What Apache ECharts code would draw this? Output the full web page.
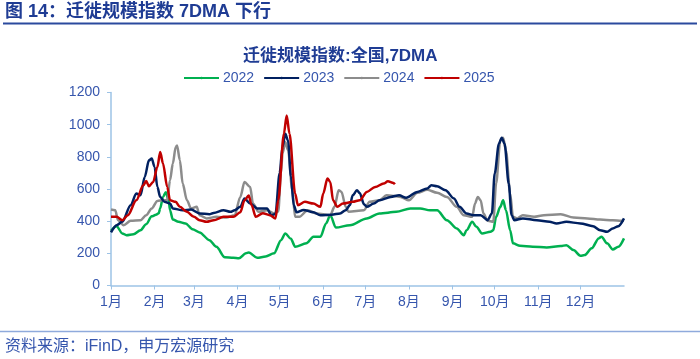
<!DOCTYPE html>
<html>
<head>
<meta charset="utf-8">
<script src="https://cdn.jsdelivr.net/npm/echarts@6/dist/echarts.min.js"></script>
<style>
html,body{margin:0;padding:0;background:#fff;}
#c{width:700px;height:359px;}
</style>
</head>
<body>
<div id="c"></div>
<script>
// month tick positions (day of year) and labels
var monthStarts = [0, 31, 59, 90, 120, 151, 181, 212, 243, 273, 304, 334];
var monthLabels = ['1月','2月','3月','4月','5月','6月','7月','8月','9月','10月','11月','12月'];
var yTicks = [0, 200, 400, 600, 800, 1000, 1200];
var seriesNames = ['2022', '2023', '2024', '2025'];

// 2022
var d2022 = [0,4,8,11,16,21,25,29,32,34,35,37,39,41,42,44,48,53,58,63,70,75,81,87,91,96,98,104,110,116,121,124,128,131,139,144,149,153,156,160,170,182,191,203,213,220,227,232,239,246,251,253,257,260,264,270,272,274,277,279,281,284,286,291,300,310,320,324,329,334,337,342,347,349,353,357,361,365];
var v2022 = [340,369,324,313,319,344,381,430,440,450,480,551,580,530,468,410,396,386,350,330,282,241,175,172,169,200,205,172,180,200,282,324,290,241,262,303,303,386,437,360,375,417,448,458,479,479,468,468,406,355,313,344,396,365,324,334,344,427,489,530,468,344,262,247,241,237,245,251,220,185,189,231,293,303,262,224,241,293];

// 2023
var d2023 = [0,4,8,14,18,21,24,27,29,31,33,35,38,42,44,51,57,63,70,73,80,85,88,92,95,99,104,111,114,117,120,122,124,126,128,130,132,137,144,149,157,163,167,170,172,175,177,180,182,187,191,199,205,210,218,225,228,232,238,244,248,253,258,263,268,271,273,276,278,280,283,285,287,293,303,312,317,324,334,343,348,353,357,361,365];
var v2023 = [330,375,396,499,572,561,675,778,789,737,613,551,520,510,479,468,472,448,443,451,468,458,468,489,541,510,479,479,437,445,700,860,944,900,680,500,455,470,455,437,440,448,468,500,561,592,575,505,489,510,530,551,561,545,582,603,623,617,592,541,489,448,437,437,406,448,696,882,919,882,634,437,406,417,406,396,386,396,386,369,344,334,355,369,417];

// 2024
var d2024 = [0,3,5,9,14,21,25,29,33,37,40,42,44,46,47,49,51,54,57,61,63,68,75,82,88,92,95,99,101,105,111,116,119,121,122,124,126,129,131,134,140,146,156,159,162,164,167,169,180,184,191,196,206,212,218,225,232,239,246,251,257,259,261,263,265,268,272,274,277,279,281,284,286,289,293,301,308,320,329,339,348,357,363,365];
var v2024 = [472,468,406,375,402,406,437,479,526,530,530,654,758,860,871,778,634,530,479,489,437,417,427,423,437,551,644,613,510,458,468,448,460,700,820,892,840,592,427,427,468,448,437,489,592,582,489,458,468,520,530,561,551,530,576,596,576,551,489,437,427,510,551,530,448,402,396,634,902,919,840,572,427,417,437,427,437,443,423,417,410,406,402,402];

// 2025
var d2025 = [0,4,8,12,18,23,25,27,30,33,35,37,40,42,46,49,54,59,63,68,73,80,87,92,95,98,100,103,108,113,117,119,123,125,127,131,133,138,144,149,151,154,156,158,161,165,172,177,182,188,194,197,201,202];
var v2025 = [427,427,406,437,530,623,650,617,644,737,830,758,613,530,520,489,458,427,406,396,406,427,427,455,530,560,500,427,450,437,417,530,944,1057,944,572,499,520,510,489,572,665,644,530,489,510,520,530,582,613,634,648,637,629];

var colors = ['#00B050', '#002060', '#8C8C8C', '#C00000'];

function zip(d, v) { return d.map(function (x, i) { return [x, v[i]]; }); }
var allDays = [d2022, d2023, d2024, d2025];
var allVals = [v2022, v2023, v2024, v2025];

var FONT = '"Liberation Sans", Arial, "Noto Sans CJK SC", sans-serif';
var chart = echarts.init(document.getElementById('c'), null, {renderer: 'canvas'});
chart.setOption({
  animation: false,
  backgroundColor: '#ffffff',
  textStyle: {fontFamily: FONT},
  title: {
    text: '迁徙规模指数:全国,7DMA',
    left: 238, top: 43,
    textStyle: {fontSize: 17, fontWeight: 'bold', color: '#1F3C94', fontFamily: FONT}
  },
  legend: {
    data: seriesNames,
    left: 178, top: 66,
    itemWidth: 35, itemHeight: 3, itemGap: 9,
    textStyle: {fontSize: 14, color: '#3656AD', fontFamily: FONT, padding: [0,0,0,-1]}
  },
  graphic: [
    {type: 'text', left: 5, top: 3, style: {text: '图 14：迁徙规模指数 7DMA 下行', font: 'bold 18px ' + FONT, fill: '#1F3C94'}},
    {type: 'line', shape: {x1: 3, y1: 23.5, x2: 697, y2: 23.5}, style: {stroke: '#2B4A9E', lineWidth: 2}},
    {type: 'line', shape: {x1: 0, y1: 331.5, x2: 700, y2: 331.5}, style: {stroke: '#8FAADC', lineWidth: 1.5}},
    {type: 'text', left: 5, top: 339, style: {text: '资料来源：iFinD，申万宏源研究', font: '16px ' + FONT, fill: '#3656AD'}}
  ],
  grid: {left: 111, right: 76, top: 92.5, bottom: 73.5},
  xAxis: {
    type: 'value', min: 0, max: 365,
    splitLine: {show: false},
    axisLine: {show: true, lineStyle: {color: '#9DC3E6', width: 1.5}},
    axisTick: {show: true, customValues: monthStarts, length: 4, lineStyle: {color: '#9DC3E6'}},
    axisLabel: {
      customValues: monthStarts, margin: 10, fontSize: 14, color: '#3656AD', fontFamily: FONT,
      formatter: function (val) { var i = monthStarts.indexOf(val); return i >= 0 ? monthLabels[i] : ''; }
    }
  },
  yAxis: {
    type: 'value', min: yTicks[0], max: yTicks[yTicks.length - 1], interval: 200,
    splitLine: {show: false},
    axisLine: {show: true, lineStyle: {color: '#9DC3E6', width: 1.5}},
    axisTick: {show: true, length: 4, lineStyle: {color: '#9DC3E6'}},
    axisLabel: {margin: 11, fontSize: 14, color: '#3656AD', fontFamily: FONT,
      formatter: function (v) { return String(v); }}
  },
  series: seriesNames.map(function (n, i) {
    return {
      name: n, type: 'line', symbol: 'none', smooth: 0.3, smoothMonotone: 'x',
      data: zip(allDays[i], allVals[i]),
      lineStyle: {color: colors[i], width: 2.5},
      itemStyle: {color: colors[i]},
      z: i === 3 ? 5 : (i === 2 ? 3 : (i === 1 ? 4 : 2))
    };
  })
});
</script>
</body>
</html>
